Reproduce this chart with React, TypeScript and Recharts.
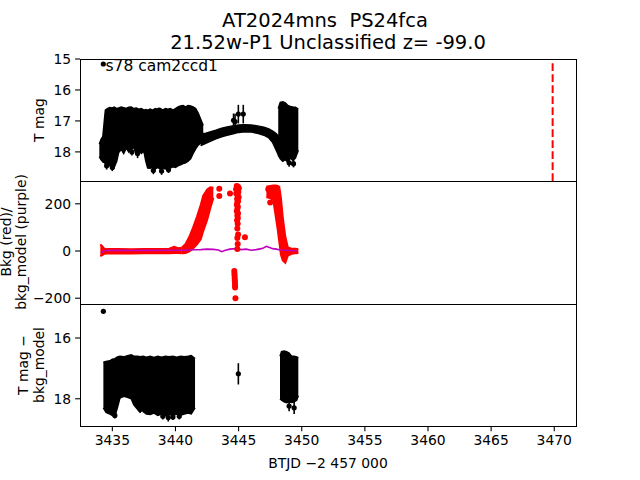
import React from 'react';
import { ComposedChart, Area, Scatter, Line, XAxis, YAxis, ReferenceLine, ErrorBar } from 'recharts';

// x positions are BTJD - 2457000
const xTicks = [3435, 3440, 3445, 3450, 3455, 3460, 3465, 3470];
const tmagTicks = [15, 16, 17, 18];
const bkgTicks = [-200, 0, 200];
const resTicks = [16, 18];
const peakTime = 3469.87;

// [t, bright edge, faint edge] of the dense error-bar blobs, T mag
const tmagBlobA = [
  [3433.97, 17.75, 18.15], [3434.1, 17.6, 18.25], [3434.25, 17.5, 18.32], [3434.4, 16.85, 18.35],
  [3434.45, 16.65, 18.4], [3434.6, 16.6, 18.38], [3434.8, 16.57, 18.45], [3435.0, 16.58, 18.42],
  [3435.15, 16.55, 18.5], [3435.35, 16.6, 18.3], [3435.5, 16.58, 18.02], [3435.7, 16.55, 17.92],
  [3435.9, 16.57, 18.05], [3436.1, 16.6, 17.88], [3436.3, 16.56, 18.0], [3436.5, 16.55, 17.9],
  [3436.7, 16.6, 17.86], [3436.9, 16.58, 18.08], [3437.1, 16.62, 17.95], [3437.3, 16.6, 18.05],
  [3437.5, 16.65, 17.98], [3437.65, 16.63, 18.3], [3437.8, 16.65, 18.52], [3438.0, 16.62, 18.53],
  [3438.2, 16.65, 18.5], [3438.4, 16.6, 18.55], [3438.6, 16.63, 18.5], [3438.8, 16.6, 18.56],
  [3439.0, 16.65, 18.52], [3439.2, 16.6, 18.55], [3439.4, 16.62, 18.5], [3439.6, 16.6, 18.52],
  [3439.8, 16.65, 18.48], [3440.0, 16.6, 18.5], [3440.2, 16.55, 18.45], [3440.4, 16.52, 18.42],
  [3440.6, 16.5, 18.38], [3440.8, 16.55, 18.35], [3441.0, 16.5, 18.3], [3441.2, 16.52, 18.22],
  [3441.4, 16.55, 18.05], [3441.6, 16.6, 17.9], [3441.8, 16.75, 17.78], [3442.0, 16.95, 17.72],
  [3442.2, 17.15, 17.7],
];
const tmagBand = [
  [3442.0, 17.42, 17.8], [3442.4, 17.4, 17.72], [3442.8, 17.35, 17.65], [3443.2, 17.3, 17.58],
  [3443.6, 17.24, 17.52], [3444.0, 17.2, 17.47], [3444.5, 17.16, 17.42], [3445.0, 17.13, 17.37],
  [3445.5, 17.12, 17.35], [3446.0, 17.13, 17.36], [3446.5, 17.16, 17.4], [3447.0, 17.2, 17.46],
  [3447.4, 17.26, 17.55], [3447.7, 17.33, 17.7], [3447.95, 17.4, 17.92], [3448.2, 17.5, 18.15],
];
const tmagBlobB = [
  [3448.14, 16.6, 18.1], [3448.3, 16.4, 18.22], [3448.5, 16.38, 18.3], [3448.7, 16.42, 18.25],
  [3448.9, 16.5, 18.33], [3449.1, 16.53, 18.2], [3449.3, 16.55, 18.28], [3449.5, 16.56, 18.2],
  [3449.73, 16.62, 17.95],
];
// [t, mag, error]
const tmagPoints = [
  [3434.55, 18.45, 0.12], [3435.0, 18.5, 0.12], [3436.55, 18.0, 0.12], [3437.0, 18.05, 0.15],
  [3438.25, 18.6, 0.12], [3438.7, 16.65, 0.05], [3438.9, 18.62, 0.12], [3439.45, 18.58, 0.1],
  [3449.0, 18.35, 0.13], [3449.35, 18.38, 0.12],
  [3444.6, 16.98, 0.22], [3444.72, 17.02, 0.25], [3444.98, 16.78, 0.3], [3445.37, 16.78, 0.3],
];

// background flux (red) and background model (purple)
const bkgFlat = [
  [3434.05, -22, 28], [3434.2, -18, 20], [3434.35, -12, 10], [3434.6, -11, 8], [3435.5, -10, 8],
  [3436.5, -11, 7], [3437.5, -10, 8], [3438.5, -10, 9], [3439.5, -9, 10], [3439.9, -8, 18],
  [3440.2, -8, 12], [3440.5, -9, 14],
];
const bkgRise = [
  [3440.5, -9, 14], [3440.8, -8, 30], [3441.1, -2, 60], [3441.4, 12, 100], [3441.7, 28, 145],
  [3442.0, 50, 195], [3442.2, 85, 235], [3442.5, 130, 260], [3442.75, 180, 270], [3443.0, 225, 268],
];
const bkgFall = [
  [3447.2, 228, 272], [3447.5, 225, 276], [3447.75, 215, 278], [3447.96, 141, 278],
  [3448.1, 90, 276], [3448.22, 40, 272], [3448.35, -15, 225], [3448.5, -40, 141],
  [3448.7, -50, 60], [3448.9, -20, 15], [3449.2, -12, 10], [3449.5, -10, 10], [3449.73, -8, 8],
];
const bkgPoints = [
  [3443.47, 264], [3443.47, 233], [3444.32, 244], [3445.5, 58], [3447.5, 205], [3447.35, 262],
  [3444.85, 275], [3444.95, 272], [3445.02, 266], [3444.8, 262], [3444.9, 256], [3444.98, 250],
  [3444.82, 244], [3444.92, 236], [3445.0, 228], [3444.88, 220], [3444.96, 212], [3444.9, 204],
  [3444.86, 196], [3444.94, 188], [3444.9, 178], [3444.86, 168], [3444.95, 160], [3444.9, 150],
  [3444.94, 140], [3444.88, 130], [3444.93, 115], [3444.9, 95], [3444.96, 70], [3444.9, 55],
  [3444.93, 30], [3444.9, 8],
  [3444.66, -85], [3444.67, -95], [3444.68, -105], [3444.69, -115], [3444.7, -125],
  [3444.71, -135], [3444.72, -145], [3444.72, -155], [3444.75, -200],
];
const bkgModel = [
  [3434.1, -8], [3434.3, 0], [3434.6, 2], [3435.5, 3], [3436.5, 2], [3437.5, 3], [3438.5, 2],
  [3439.5, 3], [3440.6, 3], [3441.0, 4], [3441.5, 5], [3442.0, 6], [3442.5, 8], [3443.0, 7],
  [3443.4, 4], [3443.66, -3], [3443.9, 2], [3444.3, 8], [3444.8, 10], [3445.2, 6], [3445.6, 8],
  [3446.0, 3], [3446.4, 6], [3446.8, 10], [3447.0, 14], [3447.2, 20], [3447.4, 16], [3447.7, 10],
  [3448.0, 8], [3448.3, 4], [3448.6, 3], [3449.0, 2], [3449.4, 1], [3449.6, 2],
];

// T mag minus background model
const resBlobA = [
  [3434.29, 16.8, 18.3], [3434.5, 16.77, 18.45], [3434.8, 16.75, 18.5], [3435.0, 16.7, 18.55],
  [3435.2, 16.68, 18.58], [3435.4, 16.62, 18.3], [3435.6, 16.6, 17.98], [3435.9, 16.62, 17.92],
  [3436.2, 16.58, 17.95], [3436.5, 16.55, 18.0], [3436.7, 16.6, 18.2], [3437.0, 16.6, 18.35],
  [3437.2, 16.62, 18.25], [3437.45, 16.6, 18.43], [3437.7, 16.63, 18.5], [3438.0, 16.6, 18.52],
  [3438.3, 16.64, 18.47], [3438.6, 16.6, 18.55], [3438.9, 16.63, 18.5], [3439.2, 16.6, 18.56],
  [3439.5, 16.62, 18.52], [3439.8, 16.6, 18.55], [3440.1, 16.63, 18.5], [3440.4, 16.6, 18.54],
  [3440.7, 16.62, 18.5], [3441.0, 16.6, 18.47], [3441.25, 16.58, 18.5], [3441.55, 16.68, 18.3],
];
const resBlobB = [
  [3448.28, 16.6, 18.0], [3448.4, 16.45, 18.05], [3448.6, 16.43, 18.1], [3448.8, 16.45, 18.13],
  [3449.0, 16.5, 18.1], [3449.2, 16.6, 18.12], [3449.4, 16.6, 18.1], [3449.6, 16.62, 18.05],
  [3449.73, 16.65, 17.9],
];
const resPoints = [
  [3434.29, 15.12, 0], [3444.98, 17.18, 0.35],
  [3435.2, 18.55, 0.1], [3437.2, 18.35, 0.12], [3439.0, 18.58, 0.1], [3439.43, 18.62, 0.13],
  [3439.8, 18.6, 0.1], [3440.3, 18.58, 0.1], [3449.0, 18.24, 0.17], [3449.4, 18.3, 0.2],
];

const toRange = (rows: number[][]) => rows.map(([t, a, b]) => ({ t, r: [a, b] }));
const toPts = (rows: number[][]) => rows.map(([t, v, e]) => ({ t, v, e: e ?? 0 }));

const FONT = 'DejaVu Sans';
const L = 80;
const R = 576;
const P1 = [59, 181];
const P2 = [181, 304.3];
const P3 = [304.3, 426.7];
const X_DOMAIN = [3432.44, 3471.72];

const minus = (v: number) => (v < 0 ? `\u2212${Math.abs(v)}` : `${v}`);
const tickStyle = { fill: '#000', fontSize: 13.9, fontFamily: FONT };

const dot = (color: string, r: number) => (p: any) => <circle cx={p.cx} cy={p.cy} r={r} fill={color} />;

function Panel({ span, domain, ticks, reversed, xAxis, children }: any) {
  const h = span[1] - span[0];
  const padTop = 20;
  const padBot = xAxis ? 45 : 20;
  return (
    <div style={{ position: 'absolute', left: 0, top: span[0] - padTop }}>
      <ComposedChart
        width={640}
        height={h + padTop + padBot}
        margin={{ top: padTop, right: 640 - R, bottom: xAxis ? 15 : padBot, left: 20 }}
      >
        <XAxis
          type="number"
          dataKey="t"
          domain={X_DOMAIN}
          allowDataOverflow
          ticks={xTicks}
          hide={!xAxis}
          height={30}
          axisLine={false}
          tickSize={4.9}
          tickMargin={4}
          tickLine={{ stroke: '#000', strokeWidth: 1.1 }}
          tick={tickStyle}
          interval={0}
        />
        <YAxis
          type="number"
          domain={domain}
          allowDataOverflow
          reversed={reversed}
          ticks={ticks}
          width={60}
          axisLine={false}
          tickSize={4.9}
          tickMargin={4}
          tickLine={{ stroke: '#000', strokeWidth: 1.1 }}
          tick={tickStyle}
          tickFormatter={minus}
          interval={0}
        />
        {children}
      </ComposedChart>
    </div>
  );
}

const frame = (span: number[]) => (
  <div
    style={{
      position: 'absolute',
      left: L - 0.5,
      top: span[0] - 0.5,
      width: R - L + 1,
      height: span[1] - span[0] + 1,
      border: '1.1px solid #000',
      boxSizing: 'border-box',
      pointerEvents: 'none',
    }}
  />
);

export default function App() {
  const blobProps = { type: 'linear' as const, dataKey: 'r', stroke: '#000', strokeWidth: 1.5, fill: '#000', fillOpacity: 1, dot: false, activeDot: false, isAnimationActive: false };
  const redProps = { ...blobProps, stroke: '#ff0000', fill: '#ff0000', strokeWidth: 2 };
  return (
    <div style={{ position: 'absolute', left: 0, top: 0, width: 640, height: 480, background: '#fff', fontFamily: FONT, overflow: 'hidden' }}>
      <Panel span={P1} domain={[15, 18.94]} ticks={tmagTicks} reversed>
        <Area data={toRange(tmagBlobA)} {...blobProps} />
        <Area data={toRange(tmagBand)} {...blobProps} />
        <Area data={toRange(tmagBlobB)} {...blobProps} />
        <Scatter data={toPts(tmagPoints)} dataKey="v" shape={dot('#000', 2.6)} isAnimationActive={false}>
          <ErrorBar dataKey="e" direction="y" width={0} stroke="#000" strokeWidth={1.6} />
        </Scatter>
        <ReferenceLine x={peakTime} stroke="#ff0000" strokeWidth={2} strokeDasharray="7.7 3.3" />
      </Panel>

      <Panel span={P2} domain={[-225.8, 296.6]} ticks={bkgTicks}>
        <Area data={toRange(bkgFlat)} {...redProps} />
        <Area data={toRange(bkgRise)} {...redProps} />
        <Area data={toRange(bkgFall)} {...redProps} />
        <Scatter data={toPts(bkgPoints)} dataKey="v" shape={dot('#ff0000', 3)} isAnimationActive={false} />
        <Line
          data={bkgModel.map(([t, v]) => ({ t, v }))}
          dataKey="v"
          type="linear"
          stroke="#bf00bf"
          strokeWidth={1.6}
          dot={false}
          activeDot={false}
          isAnimationActive={false}
        />
      </Panel>

      <Panel span={P3} domain={[14.88, 18.91]} ticks={resTicks} reversed xAxis>
        <Area data={toRange(resBlobA)} {...blobProps} />
        <Area data={toRange(resBlobB)} {...blobProps} />
        <Scatter data={toPts(resPoints)} dataKey="v" shape={dot('#000', 2.6)} isAnimationActive={false}>
          <ErrorBar dataKey="e" direction="y" width={0} stroke="#000" strokeWidth={1.6} />
        </Scatter>
      </Panel>

      {frame(P1)}
      {frame(P2)}
      {frame(P3)}

      <svg width={640} height={480} style={{ position: 'absolute', left: 0, top: 0, pointerEvents: 'none' }} fontFamily={FONT}>
        <text x={325} y={27} fontSize={19.5} textAnchor="middle">{'AT2024mns\u00a0\u00a0PS24fca'}</text>
        <text x={328} y={48.5} fontSize={19.5} textAnchor="middle">21.52w-P1 Unclassified z= -99.0</text>

        <circle cx={103.3} cy={64} r={2.6} fill="#000" />
        <text x={105.5} y={70.5} fontSize={15.5}>s78 cam2ccd1</text>

        <text transform="translate(39,120) rotate(-90)" fontSize={13.9} textAnchor="middle" dominantBaseline="central">T mag</text>
        <text transform="translate(5.5,242) rotate(-90)" fontSize={13.9} textAnchor="middle" dominantBaseline="central">Bkg (red)/</text>
        <text transform="translate(20.5,242) rotate(-90)" fontSize={13.9} textAnchor="middle" dominantBaseline="central">bkg_model (purple)</text>
        <text transform="translate(22.5,365) rotate(-90)" fontSize={13.9} textAnchor="middle" dominantBaseline="central">T mag −</text>
        <text transform="translate(39,365) rotate(-90)" fontSize={13.9} textAnchor="middle" dominantBaseline="central">bkg_model</text>

        <text x={328} y={468} fontSize={13.9} textAnchor="middle">BTJD −2 457 000</text>
      </svg>
    </div>
  );
}
